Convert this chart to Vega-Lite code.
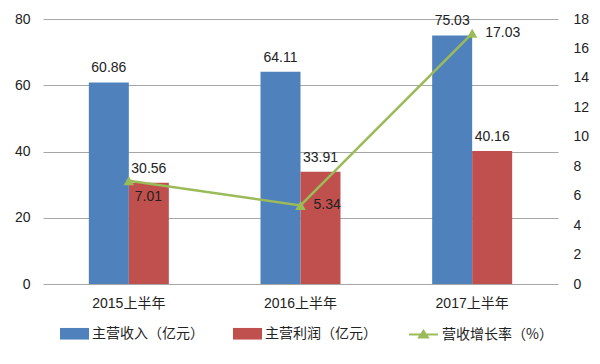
{
  "$schema": "https://vega.github.io/schema/vega-lite/v6.json",
  "width": 515,
  "height": 265,
  "autosize": {"type": "none"},
  "padding": {"left": 43, "top": 19, "right": 42, "bottom": 80},
  "background": "white",
  "config": {
    "font": "Noto Sans CJK SC",
    "view": {"stroke": null},
    "axis": {
      "labelFont": "Liberation Sans, Noto Sans CJK SC",
      "labelFontSize": 14,
      "labelColor": "#222222",
      "domain": false,
      "ticks": false,
      "title": null
    },
    "legend": {
      "labelFont": "Noto Sans CJK SC",
      "labelFontSize": 14,
      "labelColor": "#222222",
      "title": null
    }
  },
  "datasets": {
    "bars": [
      {"period": "2015上半年", "series": "主营收入（亿元）", "value": 60.86},
      {"period": "2015上半年", "series": "主营利润（亿元）", "value": 30.56},
      {"period": "2016上半年", "series": "主营收入（亿元）", "value": 64.11},
      {"period": "2016上半年", "series": "主营利润（亿元）", "value": 33.91},
      {"period": "2017上半年", "series": "主营收入（亿元）", "value": 75.03},
      {"period": "2017上半年", "series": "主营利润（亿元）", "value": 40.16}
    ],
    "rates": [
      {"period": "2015上半年", "rate": 7.01},
      {"period": "2016上半年", "rate": 5.34},
      {"period": "2017上半年", "rate": 17.03}
    ]
  },
  "encoding": {
    "x": {
      "field": "period",
      "type": "nominal",
      "sort": null,
      "scale": {"paddingInner": 0.534, "paddingOuter": 0.267},
      "axis": {"labelAngle": 0, "labelPadding": 12, "title": null}
    }
  },
  "layer": [
    {
      "data": {"name": "bars"},
      "encoding": {
        "xOffset": {"field": "series", "type": "nominal", "sort": null, "scale": {"paddingInner": 0, "paddingOuter": 0}},
        "y": {
          "field": "value",
          "type": "quantitative",
          "scale": {"domain": [0, 80]},
          "axis": {"orient": "left", "values": [0, 20, 40, 60, 80], "grid": true, "gridColor": "#a6a6a6", "gridWidth": 1, "labelPadding": 13}
        }
      },
      "layer": [
        {
          "mark": {"type": "bar"},
          "encoding": {
            "color": {
              "field": "series",
              "type": "nominal",
              "sort": null,
              "scale": {"domain": ["主营收入（亿元）", "主营利润（亿元）"], "range": ["#4F81BD", "#C0504D"]},
              "legend": {
                "orient": "none",
                "legendX": 17,
                "legendY": 300,
                "direction": "horizontal",
                "symbolType": "M-1,-0.4H1V0.4H-1Z",
                "symbolSize": 841,
                "symbolStrokeWidth": 0,
                "labelOffset": 3,
                "columnPadding": 29
              }
            }
          }
        },
        {
          "mark": {"type": "text", "baseline": "middle", "dy": -14, "fontSize": 14, "font": "Liberation Sans", "color": "#222222"},
          "encoding": {"text": {"field": "value", "type": "quantitative", "format": ".2f"}}
        }
      ]
    },
    {
      "data": {"name": "rates"},
      "encoding": {
        "y": {
          "field": "rate",
          "type": "quantitative",
          "scale": {"domain": [0, 18]},
          "axis": {"orient": "right", "values": [0, 2, 4, 6, 8, 10, 12, 14, 16, 18], "grid": false, "labelPadding": 15}
        }
      },
      "layer": [
        {
          "mark": {"type": "line", "strokeWidth": 2.5},
          "encoding": {
            "stroke": {
              "datum": "营收增长率（%）",
              "type": "nominal",
              "scale": {"range": ["#9BBB59"]},
              "legend": {
                "orient": "none",
                "legendX": 365,
                "legendY": 300,
                "symbolType": "M-1,0H1M-0.3,0.2L0,-0.25L0.3,0.2Z",
                "symbolSize": 841,
                "symbolStrokeWidth": 2,
                "symbolFillColor": "#9BBB59",
                "labelOffset": 3,
                "encode": {"symbols": {"update": {"fill": {"value": "#9BBB59"}}}}
              }
            }
          }
        },
        {
          "mark": {"type": "point", "shape": "triangle-up", "filled": true, "size": 110, "color": "#9BBB59", "opacity": 1}
        },
        {
          "transform": [{"filter": "datum.period == '2015上半年'"}],
          "mark": {"type": "text", "align": "left", "baseline": "middle", "dx": 6, "dy": 16, "fontSize": 14, "font": "Liberation Sans", "color": "#222222"},
          "encoding": {"text": {"field": "rate", "type": "quantitative", "format": ".2f"}}
        },
        {
          "transform": [{"filter": "datum.period != '2015上半年'"}],
          "mark": {"type": "text", "align": "left", "baseline": "middle", "dx": 13, "fontSize": 14, "font": "Liberation Sans", "color": "#222222"},
          "encoding": {"text": {"field": "rate", "type": "quantitative", "format": ".2f"}}
        }
      ]
    }
  ],
  "resolve": {"scale": {"y": "independent", "color": "independent"}}
}
